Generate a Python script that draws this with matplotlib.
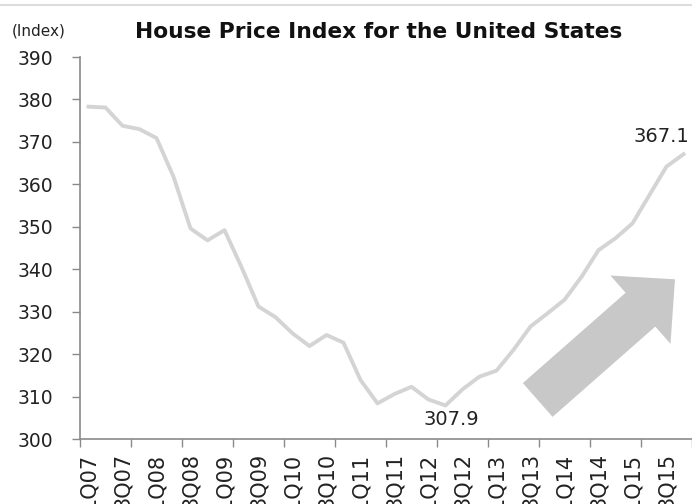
import matplotlib
matplotlib.use('Agg')
import matplotlib.pyplot as plt
import matplotlib.patches as patches
import matplotlib.transforms as transforms
from matplotlib.lines import Line2D

# quarterly index, 1Q07 .. 4Q15
quarters = ['%dQ%02d' % (q, y) for y in range(7, 16) for q in range(1, 5)]
hpi = [378.3, 378.1, 373.8, 373.0, 370.9, 361.8, 349.6, 346.8, 349.2, 340.5,
       331.2, 328.7, 324.9, 321.9, 324.5, 322.7, 313.9, 308.4, 310.6, 312.3,
       309.3, 307.9, 311.7, 314.7, 316.1, 321.0, 326.5, 329.6, 332.8, 338.2,
       344.5, 347.3, 350.8, 357.5, 364.2, 367.1]
yticks = list(range(300, 391, 10))

plt.rcParams['font.family'] = ['DejaVu Sans']
txt = '#222222'
axc = '#8a8a8a'

fig = plt.figure(figsize=(6.92, 5.04), dpi=100)
ax = fig.add_axes([80/692, (504-439)/504, 612/692, 382/504])

x = list(range(len(hpi)))
ax.plot(x, hpi, color='#d4d4d4', lw=2.8, solid_joinstyle='round')

ax.set_xlim(-0.5, len(hpi) - 0.5)
ax.set_ylim(300, 390)
ax.set_yticks(yticks)
ax.set_yticklabels([str(v) for v in yticks], fontsize=13.5, color=txt)
ax.tick_params(axis='y', length=6, width=1, color=axc, pad=13)

ax.set_xticks(x[::2])
ax.set_xticklabels(quarters[::2], rotation=90, fontsize=15, color=txt, va='top')
ax.set_xticks([i - 0.5 for i in range(0, len(hpi) + 1, 3)], minor=True)
ax.tick_params(axis='x', which='major', length=0, pad=10)
ax.tick_params(axis='x', which='minor', length=6, width=1, color=axc)

for s in ['top', 'right']:
    ax.spines[s].set_visible(False)
for s in ['left', 'bottom']:
    ax.spines[s].set_color(axc)
    ax.spines[s].set_linewidth(1.2)

# value labels
imin = hpi.index(min(hpi))
ax.annotate('%.1f' % hpi[imin], (imin, hpi[imin]), xytext=(6, -14),
            textcoords='offset pixels', ha='center', va='center',
            fontsize=14, color=txt)
ax.annotate('%.1f' % hpi[-1], (len(hpi) - 1, hpi[-1]), xytext=(-22, 18),
            textcoords='offset pixels', ha='center', va='center',
            fontsize=14, color=txt)

# big up arrow (pixel coords, y down)
pix = transforms.Affine2D().scale(1, -1).translate(0, 504)
arrow = patches.FancyArrow(537.7, 400, 137.3, -120.7, width=45, head_width=91,
                           head_length=46, length_includes_head=True,
                           color='#c8c8c8', lw=0, transform=pix)
fig.patches.append(arrow)

fig.text(12/692, 1 - 31/504, '(Index)', fontsize=11, color=txt, va='center')
fig.text(379/692, 1 - 32/504, 'House Price Index for the United States',
         fontsize=15.7, fontweight='bold', color='#111111', ha='center', va='center')

fig.add_artist(Line2D([0, 1], [1 - 5/504, 1 - 5/504], color='#dddddd', lw=1.5))

fig.savefig('out.png', dpi=100)
